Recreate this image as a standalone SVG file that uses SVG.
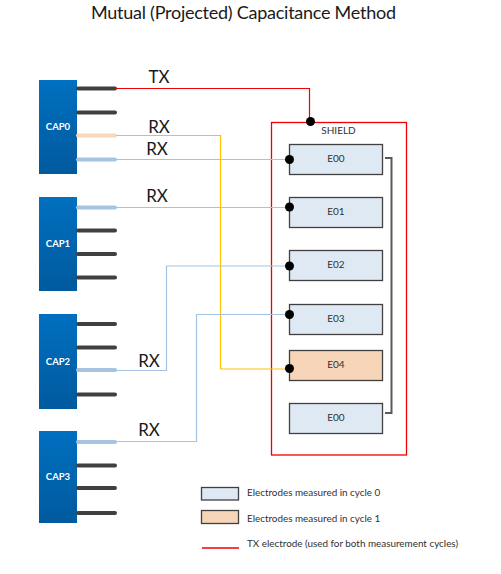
<svg xmlns="http://www.w3.org/2000/svg" width="501" height="574" viewBox="0 0 501 574">
<style>
text{font-family:Lato,"Open Sans","Liberation Sans",sans-serif;fill:#1a1a1a}
.cap{fill:url(#capg)}
.capt{font-size:9.500px;font-weight:700;text-anchor:middle}
.pin{stroke:#404040;stroke-width:4;stroke-linecap:round;fill:none}
.pb{stroke:#a7c4df;stroke-width:4;stroke-linecap:round;fill:none}
.po{stroke:#f8d7bb;stroke-width:4;stroke-linecap:round;fill:none}
.w{fill:none;stroke-width:1.200}
.bl{stroke:#a3c4e2}
.or{stroke:#ffc000}
.rd{stroke:#f00000}
.e{fill:#dfe9f3;stroke:#404040;stroke-width:1.300}
.f{fill:#f6d5b9;stroke:#404040;stroke-width:1.300}
.el{font-size:10px;text-anchor:middle}
.lbl{font-size:17px;text-anchor:middle}
.lg{font-size:9.900px}
</style>
<defs>
<linearGradient id="capg" x1="0" y1="0" x2="0" y2="1"><stop offset="0" stop-color="#0070c0"/><stop offset="1" stop-color="#005a9e"/></linearGradient>
</defs>
<text id="title" x="243.500" y="19" font-size="18" text-anchor="middle" textLength="305">Mutual (Projected) Capacitance Method</text>
<g id="shield"><rect x="271.500" y="122.500" width="135" height="332.500" fill="none" stroke="#f00000" stroke-width="1.300"/><text x="338.500" y="134" font-size="10" text-anchor="middle" style="fill:#303030">SHIELD</text></g>
<g id="cap0"><rect class="cap" x="39" y="80" width="38" height="94"/><path class="pin" d="M78 88.500H115M78 112.500H115"/><path class="po" d="M78 135.500H115"/><path class="pb" d="M78 159.500H115"/><text class="capt" style="fill:#fff" x="58" y="130">CAP0</text></g>
<g id="cap1"><rect class="cap" x="39" y="197" width="38" height="94"/><path class="pb" d="M78 207.500H115"/><path class="pin" d="M78 230.500H115M78 254H115M78 277.500H115"/><text class="capt" style="fill:#fff" x="58" y="247">CAP1</text></g>
<g id="cap2"><rect class="cap" x="39" y="314" width="38" height="95"/><path class="pin" d="M78 324H115M78 347.500H115"/><path class="pb" d="M78 370H115"/><path class="pin" d="M78 394.500H115"/><text class="capt" style="fill:#fff" x="58" y="365">CAP2</text></g>
<g id="cap3"><rect class="cap" x="39" y="431" width="38" height="92"/><path class="pb" d="M78 442H115"/><path class="pin" d="M78 465.500H115M78 488H115M78 513H115"/><text class="capt" style="fill:#fff" x="58" y="480">CAP3</text></g>
<g id="e00a"><rect class="e" x="289.500" y="144.500" width="93" height="30"/><text class="el" style="fill:#303030" x="336" y="162">E00</text></g>
<g id="e01"><rect class="e" x="289.500" y="197.500" width="93" height="30"/><text class="el" style="fill:#303030" x="336" y="215">E01</text></g>
<g id="e02"><rect class="e" x="289.500" y="250.500" width="93" height="30"/><text class="el" style="fill:#303030" x="336" y="268">E02</text></g>
<g id="e03"><rect class="e" x="289.500" y="304.500" width="93" height="30"/><text class="el" style="fill:#303030" x="336" y="322">E03</text></g>
<g id="e04"><rect class="f" x="289.500" y="350.500" width="93" height="30"/><text class="el" style="fill:#303030" x="336" y="368">E04</text></g>
<g id="e00b"><rect class="e" x="289.500" y="403.500" width="93" height="30"/><text class="el" style="fill:#303030" x="336" y="421">E00</text></g>
<g id="connectors">
<path class="w rd" d="M116 88.500H309.500V122"/>
<path class="w or" d="M116 135.500H220.500V369H290"/>
<path class="w bl" d="M116 159.500H290"/>
<path class="w bl" d="M116 207.500H290"/>
<path class="w bl" d="M116 370.500H166.500V266H290"/>
<path class="w bl" d="M116 441.500H196.500V314.500H290"/>
<path d="M385 158H391.500V413H385" fill="none" stroke="#595959" stroke-width="2"/>
<circle cx="310.500" cy="121.500" r="4.500"/>
<circle cx="289.500" cy="159.500" r="4.500"/>
<circle cx="289.500" cy="207" r="4.500"/>
<circle cx="289.500" cy="266" r="4.500"/>
<circle cx="289.500" cy="314.500" r="4.500"/>
<circle cx="289.500" cy="368.500" r="4.500"/>
</g>
<g id="labels">
<text class="lbl" x="159" y="83">TX</text>
<text class="lbl" x="159" y="133">RX</text>
<text class="lbl" x="157" y="155">RX</text>
<text class="lbl" x="157" y="202">RX</text>
<text class="lbl" x="149" y="367">RX</text>
<text class="lbl" x="149" y="436">RX</text>
</g>
<g id="legend">
<rect class="e" x="201.500" y="487.500" width="37" height="12.500"/>
<rect class="f" x="201.500" y="510.500" width="37" height="13"/>
<path d="M202 548H239" stroke="#f00000" stroke-width="1.500" fill="none"/>
<text class="lg" style="fill:#303030" x="247" y="496">Electrodes measured in cycle 0</text>
<text class="lg" style="fill:#303030" x="247" y="522">Electrodes measured in cycle 1</text>
<text class="lg" style="fill:#303030" x="247" y="547">TX electrode (used for both measurement cycles)</text>
</g>
</svg>
